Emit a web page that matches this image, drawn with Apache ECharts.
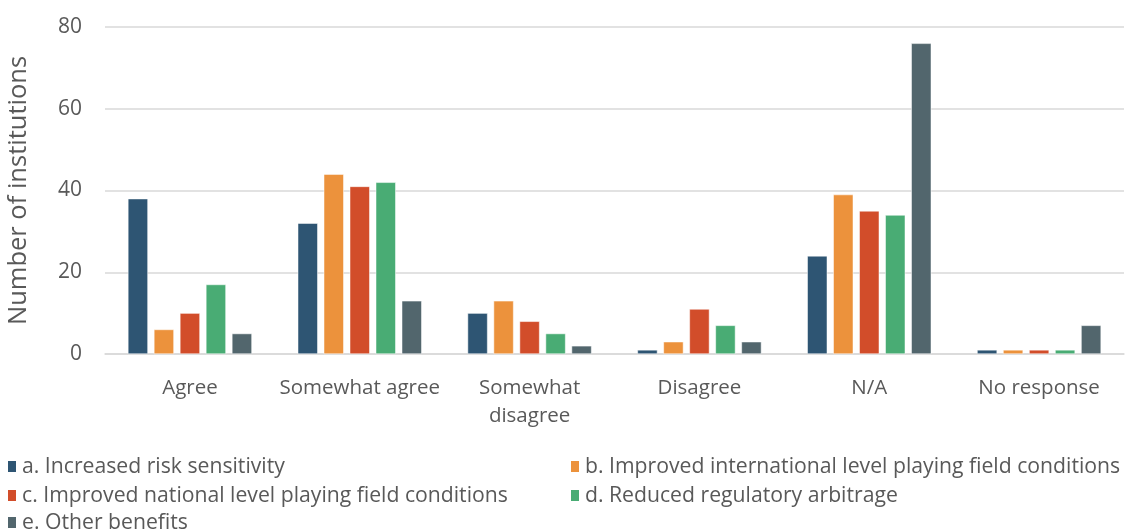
<!DOCTYPE html>
<html>
<head>
<meta charset="utf-8">
<script src="https://cdn.jsdelivr.net/npm/echarts@6/dist/echarts.min.js"></script>
<style>
  html, body { margin: 0; padding: 0; background: #fff; }
  #chart { width: 1126px; height: 530px; }
</style>
</head>
<body>
<div id="chart"></div>
<script>
// Survey answers per response category
const categories = ['Agree', 'Somewhat agree', 'Somewhat\ndisagree', 'Disagree', 'N/A', 'No response'];
const seriesNames = [
  'a. Increased risk sensitivity',
  'b. Improved international level playing field conditions',
  'c. Improved national level playing field conditions',
  'd. Reduced regulatory arbitrage',
  'e. Other benefits'
];
const riskSensitivity   = [38, 32, 10, 1, 24, 1];
const intlPlayingField  = [6, 44, 13, 3, 39, 1];
const natlPlayingField  = [10, 41, 8, 11, 35, 1];
const regArbitrage      = [17, 42, 5, 7, 34, 1];
const otherBenefits     = [5, 13, 2, 3, 76, 7];
const yTicks = [0, 20, 40, 60, 80];

const colors = ['#2E5573', '#EC923C', '#D24D2A', '#49AC74', '#52666D'];
const values = [riskSensitivity, intlPlayingField, natlPlayingField, regArbitrage, otherBenefits];
const font = '"Open Sans", sans-serif';
const textColor = '#595959';

const chart = echarts.init(document.getElementById('chart'));

// one legend box per item so the two-column layout can be placed freely
const legendPos = [
  { left: 1, top: 451 },
  { left: 564, top: 451 },
  { left: 1, top: 480 },
  { left: 564, top: 480 },
  { left: 1, top: 507 }
];
const legends = seriesNames.map((n, i) => ({
  data: [n],
  left: legendPos[i].left,
  top: legendPos[i].top,
  itemWidth: 10,
  itemHeight: 13,
  itemGap: 6,
  icon: 'rect',
  selectedMode: false,
  textStyle: { fontFamily: font, fontSize: 21.2, color: textColor, padding: [0, 0, 0, 0] }
}));

chart.setOption({
  animation: false,
  color: colors,
  legend: legends,
  grid: { left: 105, right: 2, top: 27, bottom: 176, containLabel: false, outerBoundsMode: 'none' },
  xAxis: {
    type: 'category',
    data: categories,
    axisLine: { show: true, lineStyle: { color: '#d9d9d9', width: 1.5 } },
    axisTick: { show: false },
    axisLabel: {
      fontFamily: font, fontSize: 20.5, color: textColor,
      margin: 20, lineHeight: 28, interval: 0
    }
  },
  yAxis: {
    type: 'value',
    min: yTicks[0],
    max: yTicks[yTicks.length - 1],
    interval: 20,
    name: 'Number of institutions',
    nameLocation: 'middle',
    nameGap: 73,
    nameTextStyle: { fontFamily: font, fontSize: 25.5, color: textColor },
    axisLine: { show: false },
    axisTick: { show: false },
    axisLabel: { fontFamily: font, fontSize: 21, color: textColor, margin: 23 },
    splitLine: { lineStyle: { color: '#d9d9d9', width: 1.5 } }
  },
  series: seriesNames.map((n, i) => ({
    name: n,
    type: 'bar',
    data: values[i],
    barWidth: 20,
    barGap: '30%',
    itemStyle: { color: colors[i], borderColor: '#ffffff', borderWidth: 0.5 }
  }))
});
</script>
</body>
</html>
